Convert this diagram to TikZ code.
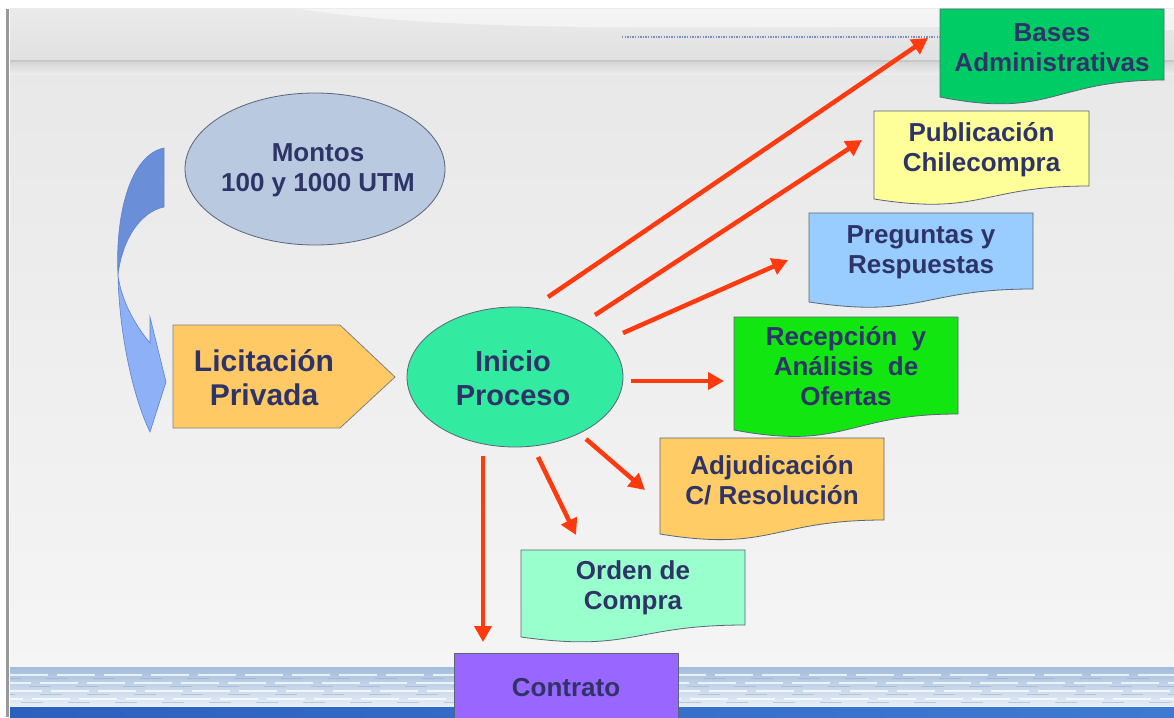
\documentclass[tikz,border=0pt]{standalone}
\usepackage{fontspec}
\setmainfont{Liberation Sans}
\usetikzlibrary{arrows.meta,calc,shapes.geometric}

\definecolor{txt}{HTML}{2F3468}
\definecolor{redarr}{HTML}{FF3A0E}
\definecolor{docline}{HTML}{5A6478}
\definecolor{cBases}{HTML}{00CC66}
\definecolor{cPub}{HTML}{FFFF99}
\definecolor{cPreg}{HTML}{99CCFF}
\definecolor{cRec}{HTML}{11E611}
\definecolor{cAdj}{HTML}{FFCC66}
\definecolor{cOrd}{HTML}{99FFCC}
\definecolor{cCon}{HTML}{9966FF}
\definecolor{cLic}{HTML}{FFC966}
\definecolor{cIni}{HTML}{33EBA0}
\definecolor{cMon}{HTML}{B9C9E0}
\definecolor{bluedark}{HTML}{6B8ED8}
\definecolor{bluelight}{HTML}{8DB0F7}
\definecolor{blueline}{HTML}{5F82D0}
\definecolor{dotcol}{HTML}{7890C4}
\definecolor{waterTop}{HTML}{A2BCDC}
\definecolor{waterBot}{HTML}{E9F0F8}
\definecolor{waterLine}{HTML}{8EA9CC}
\definecolor{barL}{HTML}{2C60C0}
\definecolor{barR}{HTML}{3F7AD2}

\tikzset{
  boxtext/.style={inner sep=0pt, align=center, text=txt,
    font=\bfseries\fontsize{26}{30}\selectfont},
  bigtext/.style={inner sep=0pt, align=center, text=txt,
    font=\bfseries\fontsize{30}{34}\selectfont},
  shapeline/.style={draw=docline, line width=0.8pt},
  redarrow/.style={draw=redarr, line width=4.5pt,
    -{Triangle[length=16pt,width=17pt]}},
  dotline/.style={draw=dotcol, line width=1.6pt, dash pattern=on 1.3pt off 1.3pt},
}

% #1 name #2 x1 #3 x2 #4 top #5 yR #6 yL #7 fill #8 text y #9 text
\newcommand\docbox[9]{%
  \path[shapeline, fill=#7] (#2,#4) -- (#3,#4) -- (#3,#5)
     .. controls ({(#2+#3)/2},#5) and ({(#2+#3)/2},{#5+2.31*(#6-#5)}) .. (#2,#6) -- cycle;
  \node[boxtext] (#1) at ({(#2+#3)/2},#8) {#9};
}

\begin{document}
\begin{tikzpicture}[x=1pt,y=-1pt]
\useasboundingbox (0,0) rectangle (1174,717);

% ---------- background ----------
\fill[white] (0,0) rectangle (1174,717);
\shade[top color=black!9, bottom color=black!4] (10,62) rectangle (1174,667);
\shade[top color=black!8, bottom color=black!12] (10,9) rectangle (1174,60);
\fill[white, opacity=0.5] (300,9) .. controls (500,40) and (800,20) .. (1174,30) -- (1174,9) -- cycle;
\draw[black!22, line width=2.5pt] (10,61) -- (1174,61);
\shade[top color=black!16, bottom color=black!7] (10,62.2) rectangle (1174,74);
\fill[black!40] (6,9) rectangle (9,717);
% water band
\shade[top color=waterTop, bottom color=waterBot] (10,667) rectangle (1174,707);
\foreach \yy/\ph in {675/0,683/17,691/6,699/25}{
  \draw[white, opacity=0.75, line width=2.2pt, dash pattern=on 38pt off 9pt, dash phase=\ph pt] (10,\yy) -- (1174,\yy);
  \draw[waterLine, opacity=0.5, line width=1pt, dash pattern=on 22pt off 25pt, dash phase={\ph pt+11pt}] (10,\yy+3.5) -- (1174,\yy+3.5);
}
\shade[left color=barL, right color=barR] (10,707) rectangle (1174,717);

% ---------- curved blue arrow ----------
\path[draw=blueline, line width=0.6pt, fill=bluedark]
  (164,148) -- (164,207) .. controls (140,212) and (122,240) .. (118,275)
  .. controls (115,215) and (130,155) .. (164,148) -- cycle;
\path[draw=blueline, line width=0.6pt, fill=bluelight]
  (118,275) .. controls (119,330) and (132,395) .. (150,432) -- (166,382)
  -- (150,317) -- (150,343) .. controls (135,325) and (121,300) .. (118,275) -- cycle;

% ---------- Montos ----------
\node[ellipse, draw=docline, line width=0.8pt, fill=cMon,
      minimum width=260pt, minimum height=152pt] (montosE) at (315,169) {};
\node[boxtext] (montos) at (318,170) {Montos\\100 y 1000 UTM};

% ---------- Licitacion Privada ----------
\path[draw=black!50, line width=0.8pt, fill=cLic]
  (173,325) -- (340,325) -- (395,377) -- (340,428) -- (173,428) -- cycle;
\node[bigtext] (lic) at (264,378) {Licitación\\Privada};

% ---------- Inicio Proceso ----------
\node[ellipse, draw=docline, line width=0.8pt, fill=cIni,
      minimum width=216pt, minimum height=140pt] (iniE) at (515,377) {};
\node[bigtext, font=\bfseries\fontsize{29}{34}\selectfont] (ini) at (513,378) {Inicio\\Proceso};

% ---------- document boxes ----------
\docbox{bases}{940}{1164}{9}{80}{97}{cBases}{48}{Bases\\Administrativas}
\docbox{pub}{874}{1089}{111}{186}{199}{cPub}{150}{Publicación\\Chilecompra}
\docbox{preg}{809}{1033}{213}{289}{302}{cPreg}{252}{Preguntas y\\Respuestas}
\docbox{rec}{734}{958}{317}{414}{430}{cRec}{366}{Recepción\ \ y\\Análisis\ \ de\\Ofertas}
\docbox{adj}{660}{884}{438}{520}{534}{cAdj}{480}{Adjudicación\\C/ Resolución}
\docbox{ord}{521}{745}{550}{625}{637}{cOrd}{588}{Orden de\\Compra}

% ---------- Contrato ----------
\path[shapeline, fill=cCon] (454,720) -- (454,653) -- (678,653) -- (678,720);
\node[boxtext] (con) at (566,688) {Contrato};

% ---------- dotted line ----------
\coordinate (d1) at (622,37);
\coordinate (d2) at (940,37);
\draw[dotline] (d1) -- (d2);

% ---------- red arrows ----------
\coordinate (s1) at (548,297); \coordinate (e1) at (928,38);
\coordinate (s2) at (595,315); \coordinate (e2) at (862,140);
\coordinate (s3) at (623,333); \coordinate (e3) at (788,260);
\coordinate (s4) at (631,381); \coordinate (e4) at (724,381);
\coordinate (s5) at (586,439); \coordinate (e5) at (645,490);
\coordinate (s6) at (538,457); \coordinate (e6) at (576,535);
\coordinate (s7) at (483,456); \coordinate (e7) at (483,642);
\foreach \i in {1,...,7}{\draw[redarrow] (s\i) -- (e\i);}
\end{tikzpicture}
\end{document}
